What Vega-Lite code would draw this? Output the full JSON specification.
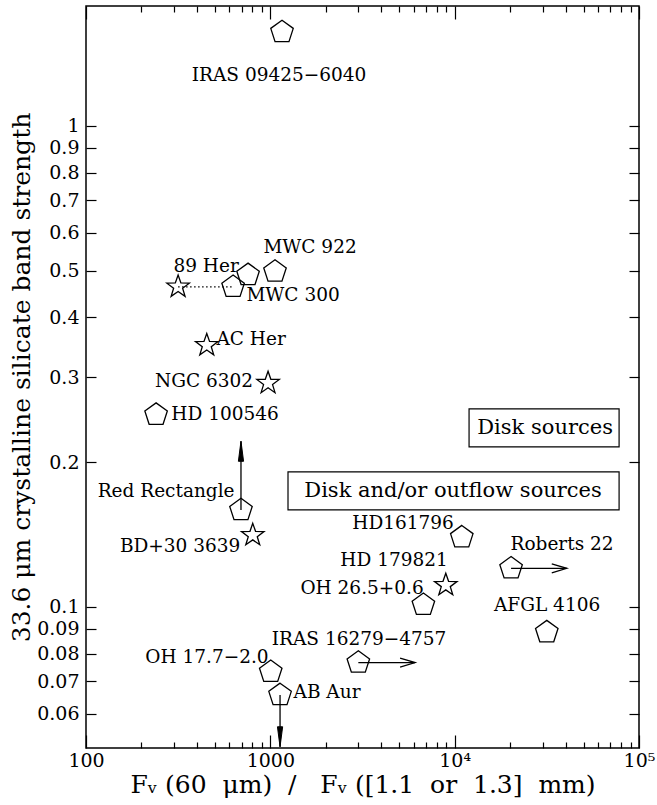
{
  "$schema": "https://vega.github.io/schema/vega-lite/v6.json",
  "width": 553,
  "height": 742,
  "autosize": "none",
  "padding": {"left": 86, "top": 6, "right": 18, "bottom": 57},
  "background": "white",
  "config": {
    "view": {"stroke": "black", "strokeWidth": 1.5},
    "font": "DejaVu Serif",
    "axis": {"grid": false, "domain": false, "tickColor": "black", "labelColor": "black", "titleColor": "black", "labelFont": "DejaVu Serif", "titleFont": "DejaVu Serif", "labelFontSize": 19, "titleFontSize": 25, "titleFontWeight": "normal", "labelOverlap": false, "labelFlush": false, "tickWidth": 1.2}
  },
  "datasets": {
    "points": [
      {"name": "IRAS 09425-6040", "x": 1157, "y": 1.568, "type": "pentagon"},
      {"name": "MWC 922", "x": 1060, "y": 0.498, "type": "pentagon"},
      {"name": "MWC 300", "x": 757, "y": 0.490, "type": "pentagon"},
      {"name": "89 Her (a)", "x": 628, "y": 0.463, "type": "pentagon"},
      {"name": "89 Her (b)", "x": 316, "y": 0.463, "type": "star"},
      {"name": "AC Her", "x": 452, "y": 0.350, "type": "star"},
      {"name": "NGC 6302", "x": 972, "y": 0.292, "type": "star"},
      {"name": "HD 100546", "x": 240, "y": 0.251, "type": "pentagon"},
      {"name": "Red Rectangle", "x": 693, "y": 0.159, "type": "pentagon"},
      {"name": "BD+30 3639", "x": 803, "y": 0.141, "type": "star"},
      {"name": "OH 17.7-2.0", "x": 1005, "y": 0.0733, "type": "pentagon"},
      {"name": "AB Aur", "x": 1129, "y": 0.0656, "type": "pentagon"},
      {"name": "IRAS 16279-4757", "x": 3002, "y": 0.0766, "type": "pentagon"},
      {"name": "HD161796", "x": 10930, "y": 0.1396, "type": "pentagon"},
      {"name": "HD 179821", "x": 8950, "y": 0.111, "type": "star"},
      {"name": "OH 26.5+0.6", "x": 6765, "y": 0.101, "type": "pentagon"},
      {"name": "Roberts 22", "x": 20230, "y": 0.1203, "type": "pentagon"},
      {"name": "AFGL 4106", "x": 31600, "y": 0.0886, "type": "pentagon"}
    ],
    "labels": [
      {"text": "IRAS 09425−6040", "lx": 1115, "ly": 1.276},
      {"text": "MWC 922", "lx": 1642, "ly": 0.560},
      {"text": "89 Her", "lx": 448, "ly": 0.5116},
      {"text": "MWC 300", "lx": 1328, "ly": 0.4452},
      {"text": "AC Her", "lx": 786, "ly": 0.3607},
      {"text": "NGC 6302", "lx": 437, "ly": 0.2950},
      {"text": "HD 100546", "lx": 568, "ly": 0.2519},
      {"text": "Red Rectangle", "lx": 272, "ly": 0.1743},
      {"text": "BD+30 3639", "lx": 324, "ly": 0.1339},
      {"text": "OH 17.7−2.0", "lx": 453, "ly": 0.0787},
      {"text": "AB Aur", "lx": 2030, "ly": 0.0666},
      {"text": "IRAS 16279−4757", "lx": 3029, "ly": 0.0858},
      {"text": "HD161796", "lx": 5248, "ly": 0.1495},
      {"text": "HD 179821", "lx": 4692, "ly": 0.1253},
      {"text": "OH 26.5+0.6", "lx": 3145, "ly": 0.1095},
      {"text": "Roberts 22", "lx": 38240, "ly": 0.1352},
      {"text": "AFGL 4106", "lx": 31720, "ly": 0.1010}
    ],
    "arrows": [
      {"name": "Red Rectangle", "x": 693, "y": 0.159, "x2": 693, "y2": 0.221, "dir": "up"},
      {"name": "AB Aur", "x": 1129, "y": 0.0656, "x2": 1129, "y2": 0.0512, "dir": "down"},
      {"name": "IRAS 16279-4757", "x": 3002, "y": 0.0766, "x2": 6100, "y2": 0.0766, "dir": "right"},
      {"name": "Roberts 22", "x": 20230, "y": 0.1203, "x2": 40560, "y2": 0.1203, "dir": "right"}
    ],
    "links": [
      {"x": 316, "x2": 628, "y": 0.463}
    ],
    "boxes": [
      {"text": "Disk sources", "x": 11970, "x2": 77980, "y": 0.2580, "y2": 0.2151, "tx": 30940, "ty": 0.2356},
      {"text": "Disk and/or outflow sources", "x": 1247, "x2": 77980, "y": 0.1909, "y2": 0.1591, "tx": 9800, "ty": 0.1743}
    ]
  },
  "resolve": {"axis": {"x": "independent", "y": "independent"}},
  "layer": [
    {
      "data": {"name": "points"},
      "mark": {"type": "point", "opacity": 0},
      "encoding": {
        "x": {"field": "x", "type": "quantitative",
          "scale": {"type": "log", "domain": [100, 100000], "nice": false, "zero": false},
          "axis": {"orient": "top", "labels": false, "title": null,
            "values": [100,200,300,400,500,600,700,800,900,1000,2000,3000,4000,5000,6000,7000,8000,9000,10000,20000,30000,40000,50000,60000,70000,80000,90000,100000],
            "tickSize": {"condition": {"test": "datum.value == 100 || datum.value == 1000 || datum.value == 10000 || datum.value == 100000", "value": -13}, "value": -6}}},
        "y": {"field": "y", "type": "quantitative",
          "scale": {"type": "log", "domain": [0.0509, 1.776], "nice": false, "zero": false},
          "axis": {"orient": "right", "labels": false, "title": null, "tickSize": -10,
            "values": [0.06,0.07,0.08,0.09,0.1,0.2,0.3,0.4,0.5,0.6,0.7,0.8,0.9,1]}}
      }
    },
    {
      "data": {"name": "points"},
      "mark": {"type": "point", "opacity": 0},
      "encoding": {
        "x": {"field": "x", "type": "quantitative",
          "axis": {"orient": "bottom",
            "title": "Fᵥ (60\u00a0 μm)\u00a0 /\u00a0\u00a0 Fᵥ ([1.1\u00a0 or\u00a0 1.3]\u00a0 mm)",
            "titlePadding": -5,
            "values": [100,200,300,400,500,600,700,800,900,1000,2000,3000,4000,5000,6000,7000,8000,9000,10000,20000,30000,40000,50000,60000,70000,80000,90000,100000],
            "labelExpr": "datum.value == 100 ? '100' : datum.value == 1000 ? '1000' : datum.value == 10000 ? '10⁴' : datum.value == 100000 ? '10⁵' : ''",
            "labelPadding": 16,
            "tickSize": {"condition": {"test": "datum.value == 100 || datum.value == 1000 || datum.value == 10000 || datum.value == 100000", "value": -13}, "value": -6}}},
        "y": {"field": "y", "type": "quantitative",
          "axis": {"orient": "left",
            "title": "33.6 μm crystalline silicate band strength",
            "titlePadding": 2,
            "values": [0.06,0.07,0.08,0.09,0.1,0.2,0.3,0.4,0.5,0.6,0.7,0.8,0.9,1],
            "format": "~g",
            "labelPadding": 17,
            "tickSize": -10}}
      }
    },
    {
      "mark": {"type": "rule", "strokeDash": [9, 6], "strokeWidth": 1.3, "color": "black"},
      "encoding": {"y": {"datum": 0.2, "type": "quantitative", "axis": null}}
    },
    {
      "data": {"name": "boxes"},
      "mark": {"type": "rect", "fill": "white", "stroke": "black", "strokeWidth": 1.2},
      "encoding": {
        "x": {"field": "x", "type": "quantitative", "axis": null},
        "x2": {"field": "x2"},
        "y": {"field": "y", "type": "quantitative", "axis": null},
        "y2": {"field": "y2"}
      }
    },
    {
      "data": {"name": "boxes"},
      "mark": {"type": "text", "fontSize": 21, "align": "center", "baseline": "middle", "color": "black"},
      "encoding": {
        "x": {"field": "tx", "type": "quantitative", "axis": null},
        "y": {"field": "ty", "type": "quantitative", "axis": null},
        "text": {"field": "text"}
      }
    },
    {
      "data": {"name": "links"},
      "mark": {"type": "rule", "strokeDash": [1.5, 2.5], "strokeWidth": 1.2, "color": "black"},
      "encoding": {
        "x": {"field": "x", "type": "quantitative", "axis": null},
        "x2": {"field": "x2"},
        "y": {"field": "y", "type": "quantitative", "axis": null}
      }
    },
    {
      "data": {"name": "arrows"},
      "mark": {"type": "rule", "strokeWidth": 1.3, "color": "black"},
      "encoding": {
        "x": {"field": "x", "type": "quantitative", "axis": null},
        "x2": {"field": "x2"},
        "y": {"field": "y", "type": "quantitative", "axis": null},
        "y2": {"field": "y2"}
      }
    },
    {
      "data": {"name": "arrows"},
      "transform": [{"filter": "datum.dir == 'up'"}],
      "mark": {"type": "point", "shape": "M-0.13,1L0,0L0.13,1Z", "size": 1600, "filled": true, "color": "black", "stroke": "black", "strokeWidth": 1, "opacity": 1},
      "encoding": {
        "x": {"field": "x2", "type": "quantitative", "axis": null},
        "y": {"field": "y2", "type": "quantitative", "axis": null}
      }
    },
    {
      "data": {"name": "arrows"},
      "transform": [{"filter": "datum.dir == 'down'"}],
      "mark": {"type": "point", "shape": "M-0.13,-1L0,0L0.13,-1Z", "size": 1600, "filled": true, "color": "black", "stroke": "black", "strokeWidth": 1, "opacity": 1},
      "encoding": {
        "x": {"field": "x2", "type": "quantitative", "axis": null},
        "y": {"field": "y2", "type": "quantitative", "axis": null}
      }
    },
    {
      "data": {"name": "arrows"},
      "transform": [{"filter": "datum.dir == 'right'"}],
      "mark": {"type": "point", "shape": "M-1,-0.3L0,0L-1,0.3", "size": 900, "filled": false, "stroke": "black", "strokeWidth": 1.3, "opacity": 1},
      "encoding": {
        "x": {"field": "x2", "type": "quantitative", "axis": null},
        "y": {"field": "y2", "type": "quantitative", "axis": null}
      }
    },
    {
      "data": {"name": "points"},
      "transform": [{"filter": "datum.type == 'pentagon'"}],
      "mark": {"type": "point", "shape": "M0,-1L0.951,-0.309L0.588,0.809L-0.588,0.809L-0.951,-0.309Z", "filled": false, "stroke": "black", "strokeWidth": 1.3, "size": 560, "opacity": 1},
      "encoding": {
        "x": {"field": "x", "type": "quantitative", "axis": null},
        "y": {"field": "y", "type": "quantitative", "axis": null}
      }
    },
    {
      "data": {"name": "points"},
      "transform": [{"filter": "datum.type == 'star'"}],
      "mark": {"type": "point", "shape": "M0,-1L0.235,-0.324L0.951,-0.309L0.38,0.124L0.588,0.809L0,0.4L-0.588,0.809L-0.38,0.124L-0.951,-0.309L-0.235,-0.324Z", "filled": false, "stroke": "black", "strokeWidth": 1.3, "size": 560, "opacity": 1},
      "encoding": {
        "x": {"field": "x", "type": "quantitative", "axis": null},
        "y": {"field": "y", "type": "quantitative", "axis": null}
      }
    },
    {
      "data": {"name": "labels"},
      "mark": {"type": "text", "fontSize": 18.5, "align": "center", "baseline": "middle", "color": "black"},
      "encoding": {
        "x": {"field": "lx", "type": "quantitative", "axis": null},
        "y": {"field": "ly", "type": "quantitative", "axis": null},
        "text": {"field": "text"}
      }
    }
  ]
}
